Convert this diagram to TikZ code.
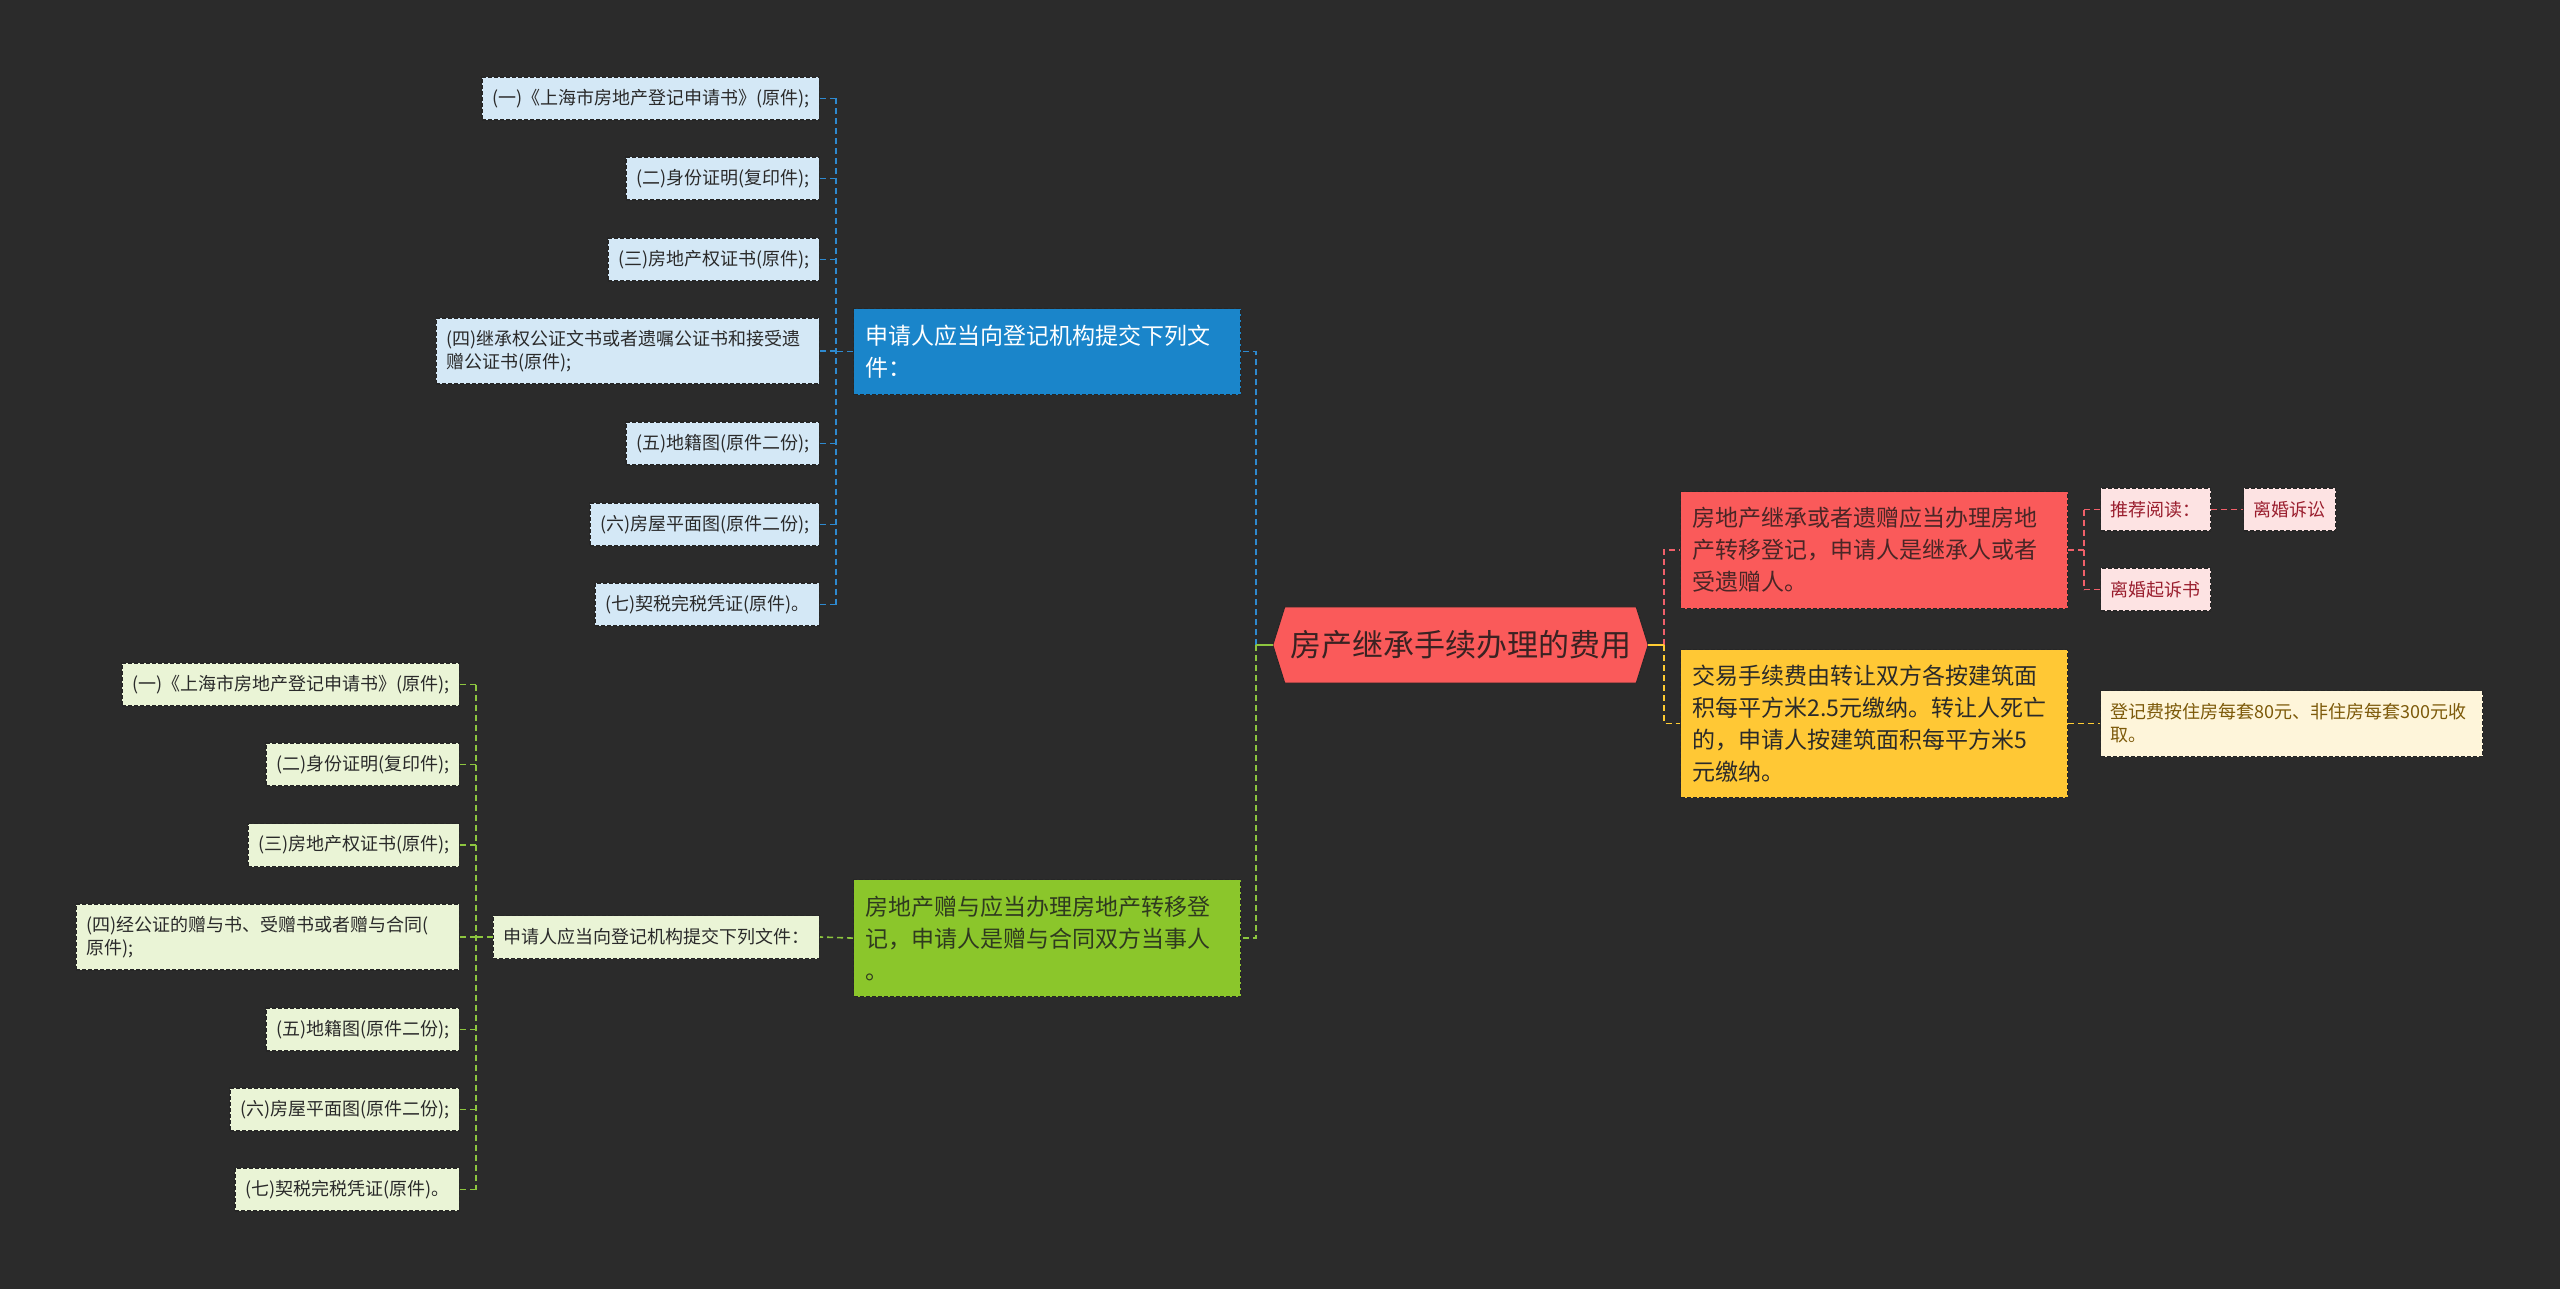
\documentclass[tikz,border=0pt]{standalone}
\usepackage{fontspec}
\setmainfont{Noto Sans CJK SC}
\usetikzlibrary{backgrounds,calc}
\definecolor{bgcol}{HTML}{2B2B2B}
\definecolor{blueMain}{HTML}{1A85CA}
\definecolor{blueLeaf}{HTML}{D4E8F6}
\definecolor{blueLine}{HTML}{2E8AD0}
\definecolor{greenMain}{HTML}{8BC62B}
\definecolor{greenLeaf}{HTML}{EAF4D6}
\definecolor{greenLine}{HTML}{8DC63F}
\definecolor{redMain}{HTML}{FA5A5A}
\definecolor{pinkLeaf}{HTML}{FDE3E3}
\definecolor{redLine}{HTML}{F0606A}
\definecolor{pinkText}{HTML}{9A1E2E}
\definecolor{yellowMain}{HTML}{FFC835}
\definecolor{creamLeaf}{HTML}{FEF5DA}
\definecolor{yellowLine}{HTML}{FFCC33}
\definecolor{creamText}{HTML}{7D5A0A}
\definecolor{leafText}{HTML}{2A2A2A}
\definecolor{rootText}{HTML}{3A2222}
\definecolor{redText}{HTML}{4A2626}
\definecolor{greenText}{HTML}{2F3A1F}
\definecolor{borderCol}{HTML}{262626}
\newcommand{\leaffont}{\fontsize{18}{23}\selectfont}
\newcommand{\mbfont}{\fontsize{23}{32}\selectfont}
\newcommand{\rootfont}{\fontsize{31}{36}\selectfont}
\begin{document}
\begin{tikzpicture}[x=1pt,y=-1pt,
  leaf/.style={draw=borderCol, line width=1.2pt, dash pattern=on 4pt off 2pt, inner xsep=10pt, inner ysep=0pt, minimum height=43pt, align=left, font=\leaffont},
  leafB/.style={leaf, fill=blueLeaf, text=leafText},
  leafG/.style={leaf, fill=greenLeaf, text=leafText},
  leafP/.style={leaf, fill=pinkLeaf, text=pinkText},
  leafC/.style={leaf, fill=creamLeaf, text=creamText},
  mainbox/.style={draw=borderCol, line width=1.2pt, dash pattern=on 4pt off 2pt, inner xsep=12pt, inner ysep=0pt, text width=363pt, align=left, font=\mbfont, anchor=north west},
  conn/.style={line width=1.6pt, dash pattern=on 6pt off 4pt},
  stub/.style={line width=1.6pt}]
\useasboundingbox (0,0) rectangle (2560,1289);

% root
\node[minimum width=375pt, minimum height=76pt, inner sep=0pt, font=\rootfont, text=rootText] (root) at (1460.5,645) {房产继承手续办理的费用};

% main boxes
\node[mainbox, fill=blueMain, text=white, minimum height=86pt] (B) at (853,308) {申请人应当向登记机构提交下列文\\件：};
\node[mainbox, fill=greenMain, text=greenText, minimum height=117pt] (G) at (853,879) {房地产赠与应当办理房地产转移登\\记，申请人是赠与合同双方当事人\\。};
\node[mainbox, fill=redMain, text=redText, minimum height=117pt] (R) at (1680,491) {房地产继承或者遗赠应当办理房地\\产转移登记，申请人是继承人或者\\受遗赠人。};
\node[mainbox, fill=yellowMain, text=leafText, minimum height=148pt] (Y) at (1680,649) {交易手续费由转让双方各按建筑面\\积每平方米2.5元缴纳。转让人死亡\\的，申请人按建筑面积每平方米5\\元缴纳。};

% blue leaves
\node[leafB, anchor=east] (b1) at (820,98.5) {(一)《上海市房地产登记申请书》(原件);};
\node[leafB, anchor=east] (b2) at (820,178.5) {(二)身份证明(复印件);};
\node[leafB, anchor=east] (b3) at (820,259.5) {(三)房地产权证书(原件);};
\node[leafB, anchor=east, minimum height=66pt, text width=363pt] (b4) at (820,351) {(四)继承权公证文书或者遗嘱公证书和接受遗\\赠公证书(原件);};
\node[leafB, anchor=east] (b5) at (820,443.5) {(五)地籍图(原件二份);};
\node[leafB, anchor=east] (b6) at (820,524.5) {(六)房屋平面图(原件二份);};
\node[leafB, anchor=east] (b7) at (820,604.5) {(七)契税完税凭证(原件)。};

% green mid + leaves
\node[leafG, anchor=east] (gm) at (820,937) {申请人应当向登记机构提交下列文件：};
\node[leafG, anchor=east] (g1) at (460,684.5) {(一)《上海市房地产登记申请书》(原件);};
\node[leafG, anchor=east] (g2) at (460,764.5) {(二)身份证明(复印件);};
\node[leafG, anchor=east] (g3) at (460,845) {(三)房地产权证书(原件);};
\node[leafG, anchor=east, minimum height=66pt, text width=363pt] (g4) at (460,937) {(四)经公证的赠与书、受赠书或者赠与合同(\\原件);};
\node[leafG, anchor=east] (g5) at (460,1029.5) {(五)地籍图(原件二份);};
\node[leafG, anchor=east] (g6) at (460,1109.5) {(六)房屋平面图(原件二份);};
\node[leafG, anchor=east] (g7) at (460,1189.5) {(七)契税完税凭证(原件)。};

% right leaves
\node[leafP, anchor=west] (P1) at (2100,509.5) {推荐阅读：};
\node[leafP, anchor=west] (L1) at (2243,509.5) {离婚诉讼};
\node[leafP, anchor=west] (P2) at (2100,589.5) {离婚起诉书};
\node[leafC, anchor=north west, text width=362pt, minimum height=66pt] (C) at (2100,690) {登记费按住房每套80元、非住房每套300元收\\取。};

% connectors: root
\coordinate (jl) at ($(root.west)+(-17,0)$);
\coordinate (jr) at ($(root.east)+(16,0)$);
\draw[conn, blueLine] (jl) |- (B.east);
\draw[conn, greenLine] (jl) |- (G.east);
\draw[stub, greenLine] (root.west) -- (jl);
\draw[conn, redLine] (jr) |- (R.west);
\draw[conn, yellowLine] (jr) |- (Y.west);
\draw[stub, yellowLine] (root.east) -- (jr);

% blue branch
\coordinate (bj) at ($(B.west)+(-17,0)$);
\draw[conn, blueLine] (b1.east -| bj) -- (b7.east -| bj);
\draw[conn, blueLine] (B.west) -- (bj);
\foreach \n in {b1,b2,b3,b4,b5,b6,b7} \draw[conn, blueLine] (\n.east) -- (\n.east -| bj);

% green branch
\draw[conn, greenLine] (G.west) -- (gm.east);
\coordinate (gj) at ($(gm.west)+(-17,0)$);
\draw[conn, greenLine] (g1.east -| gj) -- (g7.east -| gj);
\draw[conn, greenLine] (gm.west) -- (gj);
\foreach \n in {g1,g2,g3,g4,g5,g6,g7} \draw[conn, greenLine] (\n.east) -- (\n.east -| gj);

% red branch
\coordinate (rj) at ($(R.east)+(16,0)$);
\draw[conn, redLine] (P1.west -| rj) -- (P2.west -| rj);
\draw[conn, redLine] (R.east) -- (rj);
\draw[conn, redLine] (P1.west) -- (P1.west -| rj);
\draw[conn, redLine] (P2.west) -- (P2.west -| rj);
\draw[conn, redLine] (P1.east) -- (L1.west);

% yellow branch
\draw[conn, yellowLine] (Y.east) -- (C.west);

\begin{scope}[on background layer]
\fill[bgcol] (0,0) rectangle (2560,1289);
\draw[fill=redMain, draw=borderCol, line width=1pt] (root.west) -- ([xshift=12pt]root.north west) -- ([xshift=-12pt]root.north east) -- (root.east) -- ([xshift=-12pt]root.south east) -- ([xshift=12pt]root.south west) -- cycle;
\end{scope}
\end{tikzpicture}
\end{document}
